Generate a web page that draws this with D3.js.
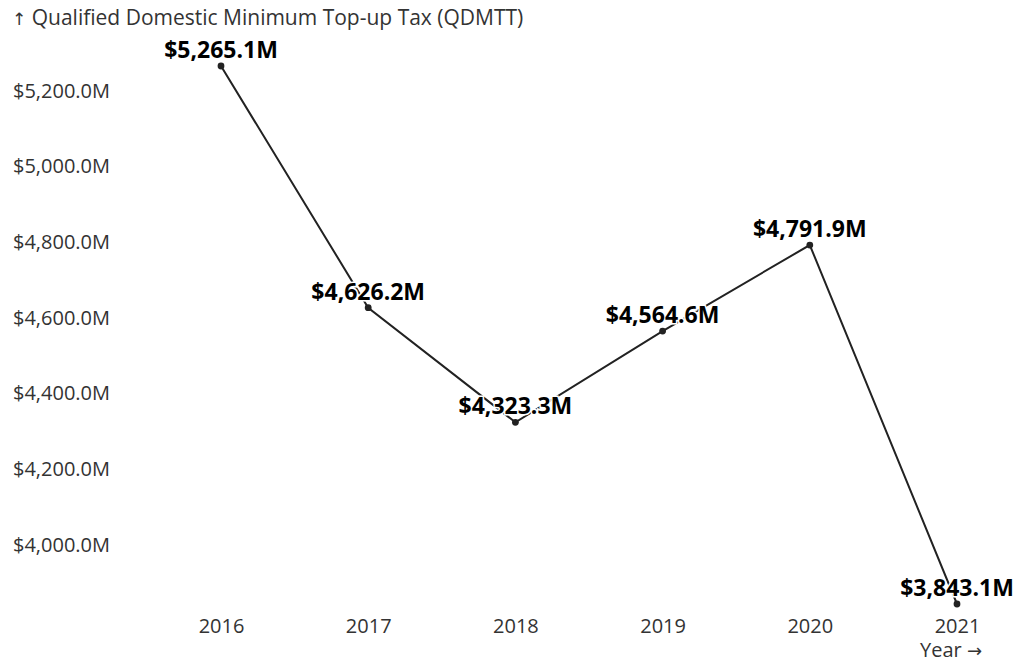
<!DOCTYPE html>
<html>
<head>
<meta charset="utf-8">
<script src="https://cdn.jsdelivr.net/npm/d3@7"></script>
<style>
  html, body { margin: 0; padding: 0; background: #fff; }
  svg { display: block; font-family: "Open Sans", "Noto Sans", sans-serif; }
</style>
</head>
<body>
<svg id="chart" width="1018" height="664"></svg>
<script>
// Qualified Domestic Minimum Top-up Tax by year, in millions of dollars
const years = ["2016", "2017", "2018", "2019", "2020", "2021"];
const qdmtt = [5265.1, 4626.2, 4323.3, 4564.6, 4791.9, 3843.1];
const yTicks = [4000, 4200, 4400, 4600, 4800, 5000, 5200];

const data = years.map((y, i) => ({ year: y, value: qdmtt[i] }));

const svg = d3.select("#chart");

const x = d3.scalePoint()
  .domain(years)
  .range([221, 957]);

const y = d3.scaleLinear()
  .domain(d3.extent(qdmtt))
  .range([604, 66]);

const fmt = v => "$" + d3.format(",.1f")(v) + "M";

// y axis: labels only
const yAxis = svg.append("g")
  .attr("transform", "translate(110,0)")
  .call(d3.axisLeft(y).tickValues(yTicks).tickFormat(fmt).tickSize(0).tickPadding(0));
yAxis.select(".domain").remove();
yAxis.selectAll("text")
  .attr("font-family", "'Open Sans', sans-serif")
  .attr("font-size", 20)
  .attr("fill", "#333");

// x axis: labels only
const xAxis = svg.append("g")
  .attr("transform", "translate(0,619)")
  .call(d3.axisBottom(x).tickSize(0).tickPadding(0));
xAxis.select(".domain").remove();
xAxis.selectAll("text")
  .attr("font-family", "'Open Sans', sans-serif")
  .attr("font-size", 20)
  .attr("fill", "#333");

// axis titles
const yTitle = svg.append("text")
  .attr("x", 12).attr("y", 25)
  .attr("font-size", 21)
  .attr("fill", "#333");
yTitle.append("tspan").attr("font-family", "'DejaVu Sans', sans-serif").attr("font-size", 17).text("↑");
yTitle.append("tspan").text(" Qualified Domestic Minimum Top-up Tax (QDMTT)");

const xTitle = svg.append("text")
  .attr("x", 982).attr("y", 657)
  .attr("text-anchor", "end")
  .attr("font-size", 20)
  .attr("fill", "#333");
xTitle.append("tspan").text("Year ");
xTitle.append("tspan").attr("font-family", "'DejaVu Sans', sans-serif").attr("font-size", 18).text("→");

// line
const line = d3.line().x(d => x(d.year)).y(d => y(d.value));
svg.append("path")
  .datum(data)
  .attr("d", line)
  .attr("fill", "none")
  .attr("stroke", "#222")
  .attr("stroke-width", 2);

// dots
svg.append("g").selectAll("circle")
  .data(data)
  .join("circle")
  .attr("cx", d => x(d.year))
  .attr("cy", d => y(d.value))
  .attr("r", 3.4)
  .attr("fill", "#222");

// value labels with white halo
svg.append("g").selectAll("text")
  .data(data)
  .join("text")
  .attr("x", d => x(d.year))
  .attr("y", d => y(d.value) - 16)
  .attr("dy", "0.35em")
  .attr("text-anchor", "middle")
  .attr("font-size", 23)
  .attr("font-weight", "bold")
  .attr("fill", "#000")
  .attr("stroke", "#fff")
  .attr("stroke-width", 3)
  .attr("paint-order", "stroke")
  .text(d => fmt(d.value));
</script>
</body>
</html>
